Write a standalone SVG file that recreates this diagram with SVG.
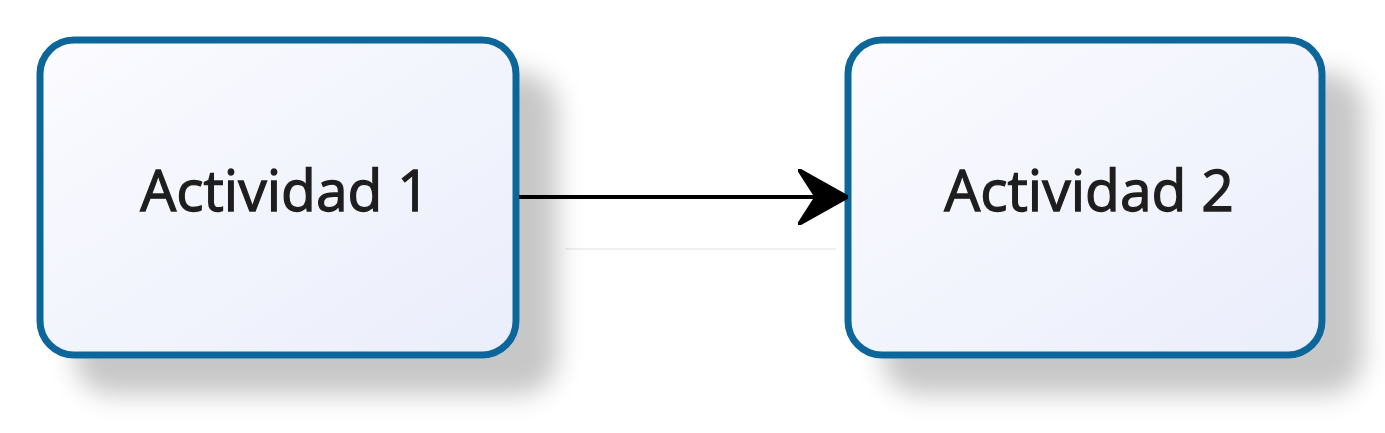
<svg xmlns="http://www.w3.org/2000/svg" width="1385" height="433" viewBox="0 0 1385 433">
<defs>
<linearGradient id="fillG" x1="0" y1="0" x2="1" y2="1">
<stop offset="0" stop-color="#fbfbff"/>
<stop offset="1" stop-color="#eaeefb"/>
</linearGradient>
<filter id="shadow" x="-20%" y="-20%" width="160%" height="180%">
<feDropShadow dx="38" dy="36" stdDeviation="13" flood-color="#000" flood-opacity="0.22"/>
</filter>
<marker id="arrow" viewBox="0 0 50 56" refX="48" refY="28" markerWidth="50" markerHeight="56" markerUnits="userSpaceOnUse" orient="auto">
<path d="M0,0 L50,28 L0,56 L18,28 Z" fill="#000" stroke="#000" stroke-width="3" stroke-linejoin="round"/>
</marker>
<style>
.box{fill:url(#fillG);stroke:#11669a;stroke-width:7;filter:url(#shadow)}
.lbl{font-family:"Open Sans","Liberation Sans",sans-serif;font-size:57px;fill:#1e1e1e;stroke:#1e1e1e;stroke-width:1.3;text-anchor:middle}
.conn{stroke:#000;stroke-width:4;fill:none}
</style>
</defs>
<rect width="1385" height="433" fill="#ffffff"/>
<line x1="565" y1="249" x2="836" y2="249" stroke="#f0f0f0" stroke-width="2"/>
<g id="node1">
<rect class="box" x="40" y="40" width="476" height="315" rx="34" ry="34"/>
<text class="lbl" x="285" y="211">Actividad 1</text>
</g>
<g id="node2">
<rect class="box" x="848" y="40" width="474" height="315" rx="34" ry="34"/>
<text class="lbl" x="1089" y="211">Actividad 2</text>
</g>
<g id="connectors">
<line class="conn" x1="519" y1="197" x2="846" y2="197" marker-end="url(#arrow)"/>
</g>
</svg>
